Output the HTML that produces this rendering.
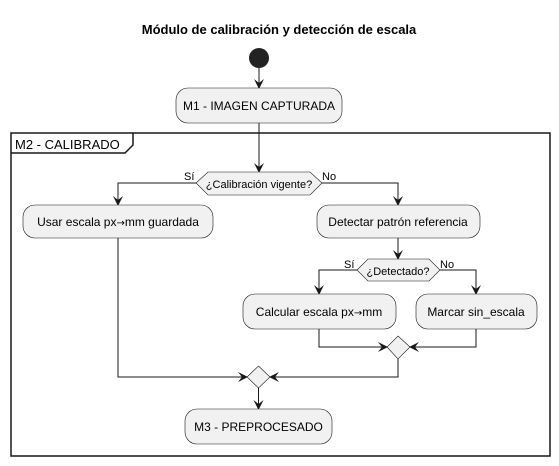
<!DOCTYPE html>
<html><head><meta charset="utf-8"><style>
html,body{margin:0;padding:0;background:#fff}
svg{display:block}
text{font-family:"Liberation Sans",sans-serif;font-size:12px;fill:#000}
.ar{font-family:"DejaVu Sans",sans-serif;font-size:10px}
</style></head><body>
<svg width="559" height="466" viewBox="0 0 559 466" xmlns="http://www.w3.org/2000/svg">
<defs>
<marker id="a" markerWidth="10" markerHeight="10" refX="9" refY="5" orient="auto" markerUnits="userSpaceOnUse">
<path d="M0,0 L10,5 L0,10 L4,5 Z" fill="#181818"/>
</marker>
</defs>
<text x="279" y="34" text-anchor="middle" style="font-weight:bold;font-size:13px">Módulo de calibración y detección de escala</text>
<circle cx="259" cy="58" r="10" fill="#222"/>
<g stroke="#181818" stroke-width="1" fill="none">
<line x1="259" y1="68" x2="259" y2="88" marker-end="url(#a)"/>
<rect x="11" y="133" width="539" height="323" stroke-width="1.5"/>
<path d="M11,153 L125,153 L133,145 L133,133" stroke-width="1.5"/>
<line x1="259" y1="123" x2="259" y2="172" marker-end="url(#a)"/>
<polyline points="196,183 118,183 118,205" marker-end="url(#a)"/>
<polyline points="322,183 398,183 398,205" marker-end="url(#a)"/>
<line x1="398" y1="238" x2="398" y2="259" marker-end="url(#a)"/>
<polyline points="357,270 319,270 319,294" marker-end="url(#a)"/>
<polyline points="440,270 476,270 476,294" marker-end="url(#a)"/>
<polyline points="319,329 319,347 387,347" marker-end="url(#a)"/>
<polyline points="476,329 476,347 410,347" marker-end="url(#a)"/>
<polyline points="398,359 398,377 270,377" marker-end="url(#a)"/>
<polyline points="118,238 118,377 247,377" marker-end="url(#a)"/>
<line x1="258.5" y1="388" x2="258.5" y2="409" marker-end="url(#a)"/>
</g>
<g fill="#f1f1f1" stroke="#181818" stroke-width="0.6">
<rect x="176" y="88" width="166" height="35" rx="12"/>
<polygon points="196,183 208,172 310,172 322,183 310,195 208,195"/>
<rect x="23" y="205" width="190" height="33" rx="12"/>
<rect x="317" y="205" width="163" height="33" rx="12"/>
<polygon points="357,270 368,259 429,259 440,270 429,281 368,281"/>
<rect x="243" y="294" width="153" height="35" rx="12"/>
<rect x="416" y="294" width="121" height="35" rx="12"/>
<polygon points="398,336 410,347 398,359 387,347"/>
<polygon points="258.5,366 270,377 258.5,388 247,377"/>
<rect x="185" y="409" width="147" height="35" rx="12"/>
</g>
<text x="259" y="110" text-anchor="middle">M1 - IMAGEN CAPTURADA</text>
<text x="15" y="149" style="font-size:13px">M2 - CALIBRADO</text>
<text x="259" y="188" text-anchor="middle" style="font-size:11px">¿Calibración vigente?</text>
<text x="184" y="180" style="font-size:11px">Sí</text>
<text x="322" y="180" style="font-size:11px">No</text>
<text x="118" y="226" text-anchor="middle">Usar escala px<tspan class="ar">→</tspan>mm guardada</text>
<text x="398" y="226" text-anchor="middle">Detectar patrón referencia</text>
<text x="398" y="275" text-anchor="middle" style="font-size:11px">¿Detectado?</text>
<text x="344" y="268" style="font-size:11px">Sí</text>
<text x="440" y="268" style="font-size:11px">No</text>
<text x="319" y="316" text-anchor="middle">Calcular escala px<tspan class="ar">→</tspan>mm</text>
<text x="476" y="316" text-anchor="middle">Marcar sin_escala</text>
<text x="258.5" y="431" text-anchor="middle">M3 - PREPROCESADO</text>
</svg>
</body></html>
